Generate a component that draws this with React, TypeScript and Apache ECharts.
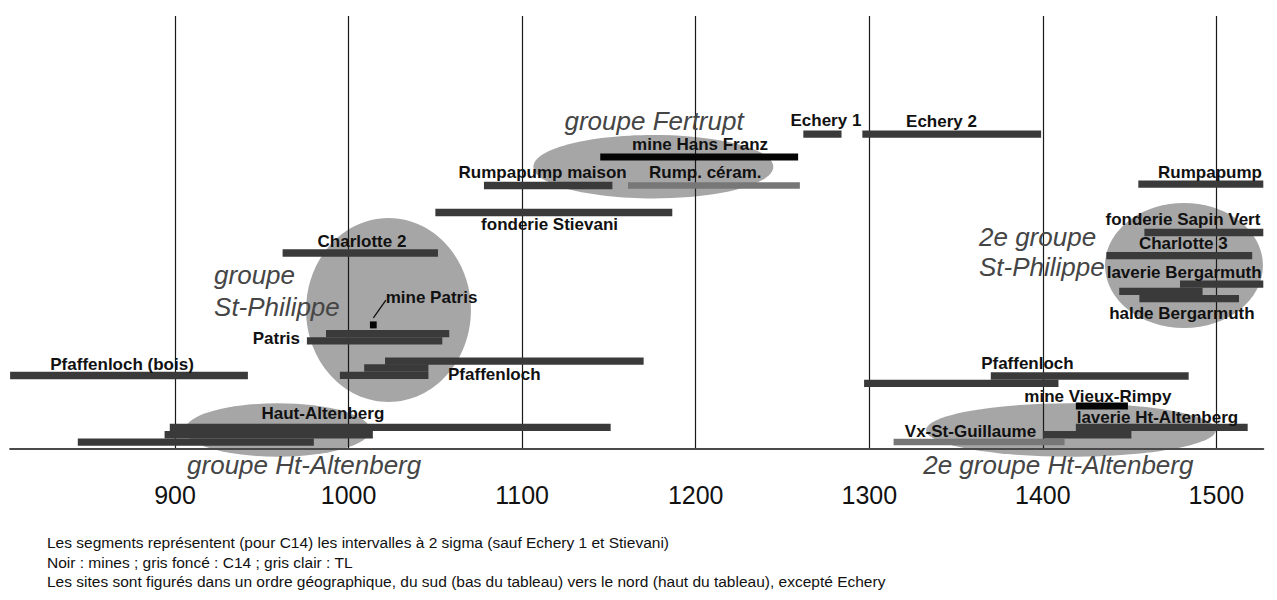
import React, { useEffect, useRef } from "react";
import * as echarts from "echarts";

// x axis: years ; y: stacking row (height above the baseline, in bar thicknesses)
const tickYears = [900, 1000, 1100, 1200, 1300, 1400, 1500];

// [start year, end year, row]
const c14Bars = [
  [844, 980, 0.95],
  [894, 1014, 1.95],
  [897, 1151, 2.95],
  [1400, 1451, 1.95],
  [1419, 1518, 2.95],
  [1297, 1409, 9.0],
  [1370, 1484, 10.0],
  [805, 942, 10.07],
  [995, 1046, 10.1],
  [1009, 1046, 11.1],
  [1021, 1170, 12.05],
  [976, 1054, 14.8],
  [987, 1058, 15.8],
  [1455.6, 1513, 20.6],
  [1444, 1492, 21.6],
  [1479, 1527, 22.6],
  [1436.6, 1520.6, 26.5],
  [962, 1051.5, 26.85],
  [1458.5, 1527, 29.66],
  [1050, 1186.5, 32.4],
  [1078, 1152, 36.1],
  [1455, 1527, 36.3],
  [1262, 1284, 43.15],
  [1296, 1399, 43.15],
];
const mineBars = [
  [1419, 1449, 5.89],
  [1012.3, 1016.2, 17.0],
  [1145, 1259, 40.0],
];
const tlBars = [
  [1314, 1412.5, 0.96],
  [1161, 1260, 36.1],
];

// [centre year, centre row, radius in years, radius in rows]
const groupEllipses = [
  [1175.6, 38.67, 69.1, 4.34],
  [1023, 19.04, 47.5, 12.6],
  [959.1, 2.6, 53.3, 3.66],
  [1481.3, 25.14, 45.5, 8.56],
  [1416.2, 2.6, 83.5, 3.66],
];

const patrisLeader = [
  [1014.3, 17.95],
  [1021.5, 20.4],
];

// [text, year, row, align]
const siteLabels: [string, number, number, string][] = [
  ["Echery 1", 1275, 45.0, "center"],
  ["Echery 2", 1341.6, 44.9, "center"],
  ["mine Hans Franz", 1202.5, 41.7, "center"],
  ["Rumpapump maison", 1111.8, 37.9, "center"],
  ["Rump. céram.", 1205.5, 37.9, "center"],
  ["fonderie Stievani", 1115.8, 30.7, "center"],
  ["Charlotte 2", 1007.7, 28.4, "center"],
  ["mine Patris", 1021.4, 20.75, "left"],
  ["Patris", 972, 15.1, "right"],
  ["Pfaffenloch (bois)", 869.5, 11.64, "center"],
  ["Pfaffenloch", 1057.3, 10.27, "left"],
  ["Haut-Altenberg", 985.2, 4.8, "center"],
  ["Rumpapump", 1496.3, 37.9, "center"],
  ["fonderie Sapin Vert", 1480.7, 31.5, "center"],
  ["Charlotte 3", 1480.9, 28.15, "center"],
  ["laverie Bergarmuth", 1481.4, 24.2, "center"],
  ["halde Bergarmuth", 1480.1, 18.5, "center"],
  ["Pfaffenloch", 1391.1, 11.7, "center"],
  ["mine Vieux-Rimpy", 1431.7, 7.2, "center"],
  ["laverie Ht-Altenberg", 1466, 4.25, "center"],
  ["Vx-St-Guillaume", 1358.3, 2.33, "center"],
];

const groupLabels: [string, number, number, string][] = [
  ["groupe Fertrupt", 1176, 45.0, "center"],
  ["groupe", 922.5, 23.9, "left"],
  ["St-Philippe", 922.5, 19.5, "left"],
  ["groupe Ht-Altenberg", 974.4, -2.2, "center"],
  ["2e groupe", 1363.2, 29.0, "left"],
  ["St-Philippe", 1363.2, 24.9, "left"],
  ["2e groupe Ht-Altenberg", 1408.9, -2.2, "center"],
];

const notes = [
  "Les segments représentent (pour C14) les intervalles à 2 sigma (sauf Echery 1 et Stievani)",
  "Noir : mines ; gris foncé : C14 ; gris clair : TL",
  "Les sites sont figurés dans un ordre géographique, du sud (bas du tableau) vers le nord (haut du tableau), excepté Echery",
];

const FONT = "'Liberation Sans', Arial, Helvetica, sans-serif";

export default function App() {
  const ref = useRef<HTMLDivElement>(null);

  useEffect(() => {
    if (!ref.current) return;
    const chart = echarts.init(ref.current, null, { renderer: "svg" });

    const barSeries = (data: number[][], color: string, thick: number, z: number) => ({
      type: "custom",
      data,
      z,
      clip: false,
      encode: { x: [0, 1], y: 2 },
      renderItem: (params: any, api: any) => {
        const s = api.coord([api.value(0), api.value(2)]);
        const e = api.coord([api.value(1), api.value(2)]);
        const h = api.size([0, thick])[1];
        return {
          type: "rect",
          shape: { x: s[0], y: s[1] - h / 2, width: e[0] - s[0], height: h },
          style: { fill: color },
        };
      },
    });

    const labelSeries = (labels: [string, number, number, string][], font: string, color: string) => ({
      type: "custom",
      z: 10,
      clip: false,
      data: labels.map((l) => [l[1], l[2]]),
      encode: { x: 0, y: 1 },
      renderItem: (params: any, api: any) => {
        const l = labels[params.dataIndex];
        const p = api.coord([l[1], l[2]]);
        return {
          type: "text",
          x: p[0],
          y: p[1],
          style: { text: l[0], font, fill: color, align: l[3], verticalAlign: "middle" },
        };
      },
    });

    chart.setOption({
      animation: false,
      backgroundColor: "#ffffff",
      grid: { left: 10.1, right: 13.7, top: 16, bottom: 151, outerBoundsMode: "none", containLabel: false },
      xAxis: {
        type: "value",
        min: 805,
        max: 1527,
        z: 4,
        axisLine: { show: true, onZero: false, lineStyle: { color: "#4a4a4a", width: 2 } },
        axisTick: { show: false },
        splitLine: { show: false },
        axisLabel: {
          customValues: tickYears,
          formatter: (v: number) => String(v),
          fontSize: 25,
          fontFamily: FONT,
          color: "#111",
          margin: 46,
          verticalAlign: "middle",
        },
      },
      yAxis: { type: "value", min: 0, max: 59.32, show: false },
      series: [
        {
          type: "custom",
          z: 1,
          clip: false,
          data: groupEllipses,
          encode: { x: 0, y: 1 },
          renderItem: (params: any, api: any) => {
            const c = api.coord([api.value(0), api.value(1)]);
            const sz = api.size([api.value(2), api.value(3)]);
            return {
              type: "ellipse",
              shape: { cx: c[0], cy: c[1], rx: sz[0], ry: sz[1] },
              style: { fill: "#a6a6a6" },
            };
          },
          markLine: {
            z: 2,
            silent: true,
            symbol: ["none", "none"],
            label: { show: false },
            lineStyle: { color: "#1a1a1a", width: 1.2, type: "solid" },
            data: tickYears.map((v) => ({ xAxis: v })),
          },
        },
        barSeries(c14Bars, "#3a3a3a", 1, 3),
        barSeries(tlBars, "#777777", 0.88, 3),
        barSeries(mineBars, "#050505", 0.95, 3),
        {
          type: "line",
          z: 3,
          data: patrisLeader,
          symbol: "none",
          lineStyle: { color: "#111", width: 1.3 },
        },
        labelSeries(siteLabels, `bold 17px ${FONT}`, "#111"),
        labelSeries(groupLabels, `italic 26px ${FONT}`, "#454545"),
      ],
      graphic: [
        {
          type: "text",
          left: 47,
          top: 533,
          style: { text: notes.join("\n"), font: `15.5px ${FONT}`, fill: "#111", lineHeight: 19.5 },
        },
      ],
    });

    return () => chart.dispose();
  }, []);

  return <div ref={ref} style={{ position: "absolute", left: 0, top: 0, width: 1277, height: 600 }} />;
}
